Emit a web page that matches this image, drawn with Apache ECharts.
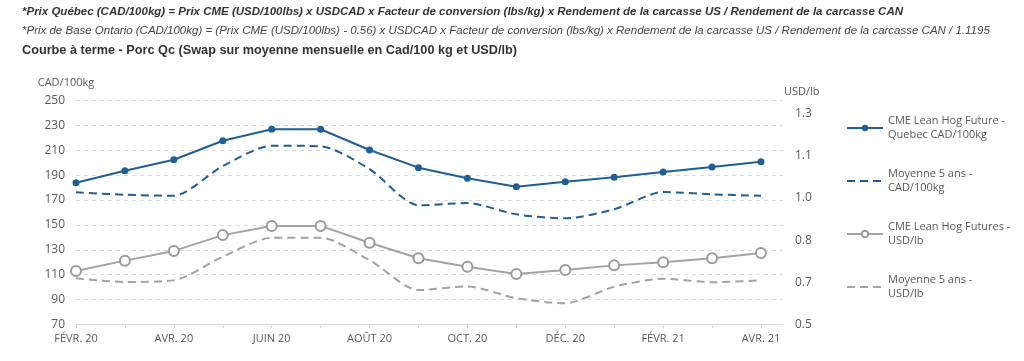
<!DOCTYPE html>
<html>
<head>
<meta charset="utf-8">
<script src="https://cdn.jsdelivr.net/npm/echarts@6/dist/echarts.min.js"></script>
<style>
html,body{margin:0;padding:0;background:#fff;}
#chart{width:1024px;height:361px;}
</style>
</head>
<body>
<div id="chart"></div>
<script>
const months = ['FÉVR. 20','MARS 20','AVR. 20','MAI 20','JUIN 20','JUIL. 20','AOÛT 20','SEPT. 20','OCT. 20','NOV. 20','DÉC. 20','JANV. 21','FÉVR. 21','MARS 21','AVR. 21'];
const quebecCad = [184.0,193.6,202.5,217.8,227.0,227.0,210.3,196.1,187.5,180.8,184.8,188.3,192.6,196.6,200.9];
const avg5Cad   = [176.3,174.3,173.5,197.4,213.8,213.3,195.0,165.8,167.6,158.5,155.3,162.6,176.5,174.6,173.5];
const cmeUsd    = [0.703,0.742,0.779,0.839,0.874,0.874,0.810,0.751,0.719,0.691,0.706,0.724,0.736,0.751,0.771];
const avg5Usd   = [0.675,0.661,0.667,0.757,0.829,0.829,0.744,0.630,0.644,0.599,0.580,0.643,0.673,0.660,0.667];
const leftTicks = {min:70, max:250, step:20};
const rightTicks = {min:0.5, max:1.35, step:0.16};
const seriesNames = ['CME Lean Hog Future -\nQuebec CAD/100kg','Moyenne 5 ans -\nCAD/100kg','CME Lean Hog Futures -\nUSD/lb','Moyenne 5 ans -\nUSD/lb'];

const BLUE = '#1f5f96';
const GRAY = '#a3a3a3';
const TXT = '#595959';
const FONT = '"Open Sans", sans-serif';

const pairs = arr => arr.map((v,i)=>[i,v]);

const chart = echarts.init(document.getElementById('chart'));
chart.setOption({
  animation:false,
  backgroundColor:'#fff',
  graphic:[
    {type:'text', x:22, y:12, style:{text:'*Prix Québec (CAD/100kg) = Prix CME (USD/100lbs) x USDCAD x Facteur de conversion (lbs/kg) x Rendement de la carcasse US / Rendement de la carcasse CAN', font:'italic bold 11.5px "Liberation Sans", Arial, sans-serif', fill:'#333', textVerticalAlign:'middle'}},
    {type:'text', x:22, y:31, style:{text:'*Prix de Base Ontario (CAD/100kg) = (Prix CME (USD/100lbs) - 0.56) x USDCAD x Facteur de conversion (lbs/kg) x Rendement de la carcasse US / Rendement de la carcasse CAN / 1.1195', font:'italic 11.5px "Liberation Sans", Arial, sans-serif', fill:'#444', textVerticalAlign:'middle'}},
    {type:'text', x:22, y:50, style:{text:'Courbe à terme - Porc Qc (Swap sur moyenne mensuelle en Cad/100 kg et USD/lb)', font:'bold 12.7px "Liberation Sans", Arial, sans-serif', fill:'#333', textVerticalAlign:'middle'}},
    {type:'text', x:66, y:83, style:{text:'CAD/100kg', font:'11px '+FONT, fill:TXT, textAlign:'center', textVerticalAlign:'middle'}},
    {type:'text', x:784, y:92, style:{text:'USD/lb', font:'11px '+FONT, fill:TXT, textAlign:'left', textVerticalAlign:'middle'}}
  ],
  grid:{left:76, right:241, top:100.7, height:223.6, containLabel:false},
  legend:{
    orient:'vertical', left:841, top:102, itemWidth:36, itemHeight:8, itemGap:11,
    textStyle:{color:TXT, fontSize:11, fontFamily:FONT, lineHeight:14, padding:[14,0,0,0]},
    data:[
      {name:seriesNames[0]},
      {name:seriesNames[1], itemStyle:{opacity:0}},
      {name:seriesNames[2]},
      {name:seriesNames[3], itemStyle:{opacity:0}}
    ]
  },
  xAxis:{
    type:'value', min:0, max:14.45, interval:1,
    axisLine:{show:true, lineStyle:{color:'#d9d9d9', width:1}},
    axisTick:{show:true, length:4, lineStyle:{color:'#d9d9d9'}},
    splitLine:{show:false},
    axisLabel:{color:TXT, fontSize:11, fontFamily:FONT, margin:9, showMaxLabel:false,
      formatter:v => (Number.isInteger(v) && v%2===0 && months[v]) ? months[v] : ''}
  },
  yAxis:[
    {type:'value', min:leftTicks.min, max:leftTicks.max, interval:leftTicks.step,
     axisLine:{show:false}, axisTick:{show:false},
     splitLine:{show:true, lineStyle:{color:'#d9d9d9', type:[4,4], width:1}},
     axisLabel:{color:TXT, fontSize:12, fontFamily:FONT, margin:11}},
    {type:'value', min:rightTicks.min, max:rightTicks.max, interval:rightTicks.step,
     axisLine:{show:false}, axisTick:{show:false}, splitLine:{show:false},
     axisLabel:{color:TXT, fontSize:12, fontFamily:FONT, margin:12, showMaxLabel:false,
       formatter:v => v.toFixed(1)}}
  ],
  series:[
    {name:seriesNames[3], type:'line', yAxisIndex:1, data:pairs(avg5Usd), symbol:'none', smooth:0.25,
     lineStyle:{color:GRAY, width:2, type:[8,5]}, itemStyle:{color:GRAY}, z:1},
    {name:seriesNames[2], type:'line', yAxisIndex:1, data:pairs(cmeUsd), symbol:'circle', symbolSize:10,
     lineStyle:{color:GRAY, width:2}, itemStyle:{color:'#fff', borderColor:'#9a9a9a', borderWidth:2}, z:2},
    {name:seriesNames[1], type:'line', yAxisIndex:0, data:pairs(avg5Cad), symbol:'none', smooth:0.25,
     lineStyle:{color:BLUE, width:2, type:[8,5]}, itemStyle:{color:BLUE}, z:3},
    {name:seriesNames[0], type:'line', yAxisIndex:0, data:pairs(quebecCad), symbol:'circle', symbolSize:7,
     lineStyle:{color:BLUE, width:2}, itemStyle:{color:BLUE}, z:4}
  ]
});
</script>
</body>
</html>
